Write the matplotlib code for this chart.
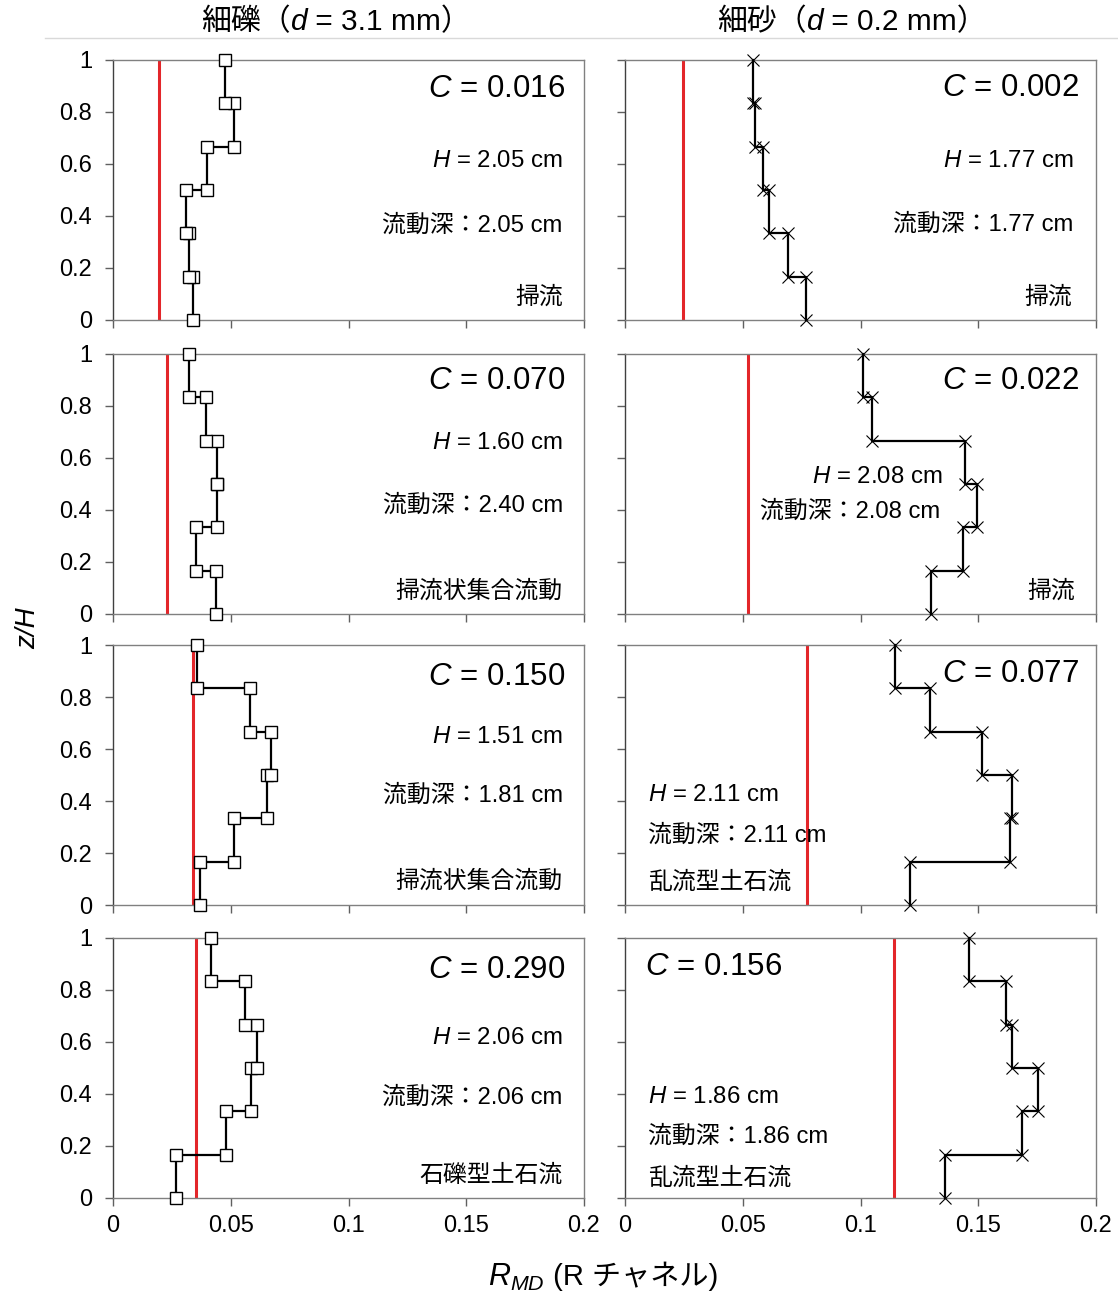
import matplotlib
matplotlib.use('Agg')
import matplotlib.pyplot as plt
from matplotlib.lines import Line2D
from matplotlib.offsetbox import TextArea, HPacker, AnnotationBbox

plt.rcParams['font.family'] = ['Liberation Sans', 'Noto Sans CJK JP']
plt.rcParams['mathtext.fontset'] = 'custom'
plt.rcParams['mathtext.rm'] = 'Liberation Sans'
plt.rcParams['mathtext.it'] = 'Liberation Sans:italic'
jp = ['Liberation Sans', 'Noto Sans CJK JP']

# R_MD per layer, from bottom (z/H 0-1/6) to top (5/6-1)
rm_gravel = [
    [0.0338, 0.0324, 0.0310, 0.0400, 0.0515, 0.0476],
    [0.0437, 0.0351, 0.0440, 0.0443, 0.0395, 0.0324],
    [0.0369, 0.0514, 0.0652, 0.0669, 0.0582, 0.0358],
    [0.0268, 0.0480, 0.0585, 0.0613, 0.0560, 0.0415],
]
rm_sand = [
    [0.0769, 0.0694, 0.0612, 0.0588, 0.0550, 0.0545],
    [0.1300, 0.1434, 0.1494, 0.1444, 0.1050, 0.1010],
    [0.1210, 0.1635, 0.1645, 0.1518, 0.1296, 0.1147],
    [0.1359, 0.1685, 0.1753, 0.1643, 0.1619, 0.1459],
]
red_gravel = [0.0197, 0.0228, 0.0338, 0.0351]
red_sand = [0.0248, 0.0521, 0.0772, 0.1144]

c_gravel = ['0.016', '0.070', '0.150', '0.290']
c_sand = ['0.002', '0.022', '0.077', '0.156']
h_gravel = ['2.05', '1.60', '1.51', '2.06']
d_gravel = ['2.05', '2.40', '1.81', '2.06']
h_sand = ['1.77', '2.08', '2.11', '1.86']
d_sand = ['1.77', '2.08', '2.11', '1.86']
type_gravel = ['掃流', '掃流状集合流動', '掃流状集合流動', '石礫型土石流']
type_sand = ['掃流', '掃流', '乱流型土石流', '乱流型土石流']

# text placement (x, y, ha) for C, H, depth, type in each panel
pos_gravel = [
    [(0.96, 0.888, 'right'), (0.955, 0.612, 'right'), (0.955, 0.365, 'right'), (0.955, 0.088, 'right')],
    [(0.96, 0.896, 'right'), (0.955, 0.658, 'right'), (0.955, 0.419, 'right'), (0.955, 0.088, 'right')],
    [(0.96, 0.877, 'right'), (0.955, 0.646, 'right'), (0.955, 0.423, 'right'), (0.955, 0.092, 'right')],
    [(0.96, 0.877, 'right'), (0.955, 0.615, 'right'), (0.955, 0.388, 'right'), (0.955, 0.085, 'right')],
]
pos_sand = [
    [(0.964, 0.892, 'right'), (0.953, 0.612, 'right'), (0.953, 0.369, 'right'), (0.95, 0.088, 'right')],
    [(0.964, 0.896, 'right'), (0.673, 0.527, 'right'), (0.669, 0.396, 'right'), (0.955, 0.088, 'right')],
    [(0.964, 0.888, 'right'), (0.049, 0.423, 'left'), (0.049, 0.269, 'left'), (0.049, 0.085, 'left')],
    [(0.042, 0.888, 'left'), (0.049, 0.388, 'left'), (0.049, 0.235, 'left'), (0.049, 0.077, 'left')],
]

W, Hh = 1118, 1296
fig = plt.figure(figsize=(W / 100, Hh / 100), dpi=100)

col_left = [113, 625]
col_w = 471
row_top = [60, 354, 645, 938]
row_h = 260

fig.add_artist(Line2D([45 / W, 1.0], [1 - 38 / Hh, 1 - 38 / Hh], color='#d9d9d9', lw=1))

zs = [i / 6 for i in range(7)]

for c in range(2):
    for r in range(4):
        ax = fig.add_axes([col_left[c] / W, 1 - (row_top[r] + row_h) / Hh, col_w / W, row_h / Hh])
        if c == 0:
            vals, red, marker, ms, mew = rm_gravel[r], red_gravel[r], 's', 8.5, 1.0
            cv, hv, dv, tv, pos = c_gravel[r], h_gravel[r], d_gravel[r], type_gravel[r], pos_gravel[r]
        else:
            vals, red, marker, ms, mew = rm_sand[r], red_sand[r], 'x', 8, 0.8
            cv, hv, dv, tv, pos = c_sand[r], h_sand[r], d_sand[r], type_sand[r], pos_sand[r]
        xs, ys = [], []
        for i, v in enumerate(vals):
            xs += [v, v]
            ys += [zs[i], zs[i + 1]]
        ax.axvline(red, color='#e3262a', lw=2.2, zorder=2)
        ax.plot(xs, ys, '-', color='black', lw=1.6, marker=marker, ms=ms,
                mfc='white', mec='black', mew=mew, clip_on=False, zorder=3)
        ax.set_xlim(0, 0.2)
        ax.set_ylim(0, 1)
        ax.set_xticks([0, 0.05, 0.1, 0.15, 0.2])
        ax.set_yticks([0, 0.2, 0.4, 0.6, 0.8, 1])
        for s in ax.spines.values():
            s.set_color('#808080')
            s.set_linewidth(1.0)
        ax.spines['left'].set_color('#404040')
        ax.tick_params(direction='out', length=6, width=1, color='#606060', labelsize=17)
        ax.tick_params(axis='y', pad=9)
        ax.tick_params(axis='x', pad=6)
        if c == 0:
            ax.set_yticklabels(['0', '0.2', '0.4', '0.6', '0.8', '1'])
        else:
            ax.set_yticklabels([])
        if r == 3:
            ax.set_xticklabels(['0', '0.05', '0.1', '0.15', '0.2'])
        else:
            ax.set_xticklabels([])
        ax.text(pos[0][0], pos[0][1], r'$C$ = ' + cv, transform=ax.transAxes,
                ha=pos[0][2], va='center', fontsize=22.5)
        ax.text(pos[1][0], pos[1][1], r'$H$ = ' + hv + ' cm', transform=ax.transAxes,
                ha=pos[1][2], va='center', fontsize=17.3)
        ax.text(pos[2][0], pos[2][1], '流動深：' + dv + ' cm', transform=ax.transAxes,
                ha=pos[2][2], va='center', fontsize=17.2, family=jp)
        ax.text(pos[3][0], pos[3][1], tv, transform=ax.transAxes,
                ha=pos[3][2], va='center', fontsize=17.2, family=jp)
        if r == 0:
            name = '細礫（' if c == 0 else '細砂（'
            size = ' = 3.1 mm）' if c == 0 else ' = 0.2 mm）'
            box = HPacker(children=[
                TextArea(name, textprops=dict(fontsize=21.5, family=jp)),
                TextArea('d', textprops=dict(fontsize=21.5, style='italic', family='Liberation Sans')),
                TextArea(size, textprops=dict(fontsize=21.5, family=jp)),
            ], align='baseline', pad=0, sep=0)
            cx = (336 if c == 0 else 852) / W
            ab = AnnotationBbox(box, (cx, 1 - 22 / Hh), xycoords='figure fraction',
                                frameon=False, box_alignment=(0.5, 0.5), pad=0)
            fig.add_artist(ab)

# axis labels
fig.text(28 / W, 1 - 628 / Hh, 'z/H', rotation=90, style='italic', fontsize=20,
         ha='center', va='center')
xl = HPacker(children=[
    TextArea('$R_{MD}$', textprops=dict(fontsize=22)),
    TextArea(' (R チャネル)', textprops=dict(fontsize=21, family=jp)),
], align='baseline', pad=0, sep=0)
abx = AnnotationBbox(xl, (603 / W, 1 - 1277 / Hh), xycoords='figure fraction',
                     frameon=False, box_alignment=(0.5, 0.5), pad=0)
fig.add_artist(abx)

fig.savefig('out.png', dpi=100)
